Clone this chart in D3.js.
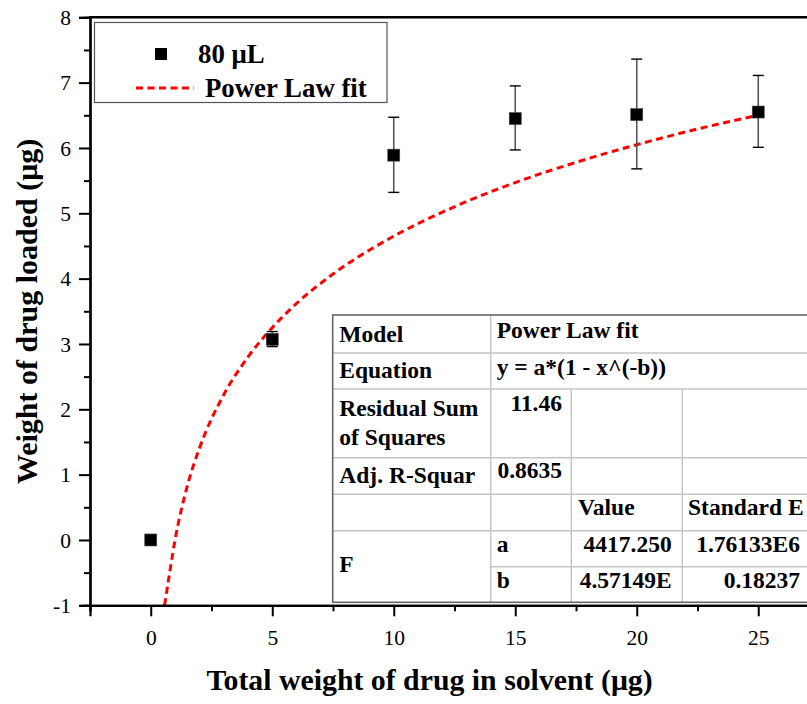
<!DOCTYPE html>
<html>
<head>
<meta charset="utf-8">
<script src="https://cdn.jsdelivr.net/npm/d3@7"></script>
<style>
  body { margin: 0; background: #fff; }
  svg { display: block; font-family: "Liberation Serif", "Times New Roman", serif; }
  svg text { font-family: "Liberation Serif", "Times New Roman", serif; }
</style>
</head>
<body>
<div id="chart"></div>
<script>
// measured points (80 uL)
const drugTotal = [0, 5, 10, 15, 20, 25];
const drugLoaded = [0, 3.07, 5.89, 6.45, 6.51, 6.55];
const errLow = [0, 2.96, 5.32, 5.97, 5.68, 6.01];
const errHigh = [0, 3.19, 6.47, 6.95, 7.36, 7.11];

// power law fit curve
const fitX = [0.57, 0.8, 1, 1.5, 2, 3, 4, 5, 6, 7.5, 10, 12.5, 15, 17.5, 20, 22.5, 25];
const fitY = [-1.0, -0.45, 0, 0.82, 1.4, 2.22, 2.8, 3.25, 3.62, 4.07, 4.65, 5.1, 5.47, 5.78, 6.05, 6.29, 6.5];

const xTicks = [0, 5, 10, 15, 20, 25];
const yTicks = [-1, 0, 1, 2, 3, 4, 5, 6, 7, 8];

const legendLabels = ["80 \u03bcL", "Power Law fit"];

// fit report table
const tableRows = [
  ["Model", "Power Law fit"],
  ["Equation", "y = a*(1 - x^(-b))"],
  ["Residual Sum|of Squares", "11.46"],
  ["Adj. R-Squar", "0.8635"]
];
const paramHeader = ["Value", "Standard E"];
const paramNames = ["a", "b"];
const paramValues = ["4417.250", "4.57149E"];
const paramErrors = ["1.76133E6", "0.18237"];

const render = () => {
  const width = 807, height = 704;
  const svg = d3.select("#chart").append("svg")
    .attr("width", width)
    .attr("height", height);

  const x = d3.scaleLinear().domain([-2.5, 27.5]).range([90, 819]);
  const y = d3.scaleLinear().domain([-1, 8]).range([605.3, 17.3]);

  const points = drugTotal.map((d, i) => ({ x: d, y: drugLoaded[i], lo: errLow[i], hi: errHigh[i] }));
  const fit = fitX.map((d, i) => ({ x: d, y: fitY[i] }));

  // fit curve
  const line = d3.line().x(d => x(d.x)).y(d => y(d.y)).curve(d3.curveMonotoneX);
  svg.append("path")
    .datum(fit)
    .attr("d", line)
    .attr("fill", "none")
    .attr("stroke", "#ff0000")
    .attr("stroke-width", 3)
    .attr("stroke-dasharray", "7,4.5");

  // error bars
  const eb = svg.append("g").selectAll("g")
    .data(points.filter(d => d.hi > d.lo))
    .enter().append("g");
  eb.append("line")
    .attr("x1", d => x(d.x)).attr("x2", d => x(d.x))
    .attr("y1", d => y(d.lo)).attr("y2", d => y(d.hi))
    .attr("stroke", "#555").attr("stroke-width", 1.6);
  ["lo", "hi"].forEach(k => {
    eb.append("line")
      .attr("x1", d => x(d.x) - 5.5).attr("x2", d => x(d.x) + 5.5)
      .attr("y1", d => y(d[k])).attr("y2", d => y(d[k]))
      .attr("stroke", "#000").attr("stroke-width", 1.4);
  });

  // markers
  svg.append("g").selectAll("rect")
    .data(points)
    .enter().append("rect")
    .attr("x", d => x(d.x) - 6)
    .attr("y", d => y(d.y) - 6)
    .attr("width", 12).attr("height", 12)
    .attr("fill", "#000")
    .attr("stroke", "#444").attr("stroke-width", 0.6);

  // axes
  const fmt = d => String(d);
  const yAxis = d3.axisLeft(y).tickValues(yTicks).tickSize(11).tickPadding(8).tickFormat(fmt);
  const yMinor = d3.axisLeft(y).tickValues(d3.range(-0.5, 8, 1)).tickSize(6).tickFormat("");
  const xAxis = d3.axisBottom(x).tickValues(xTicks).tickSize(11).tickPadding(13).tickFormat(fmt);
  const xMinor = d3.axisBottom(x).tickValues(d3.range(-2.5, 28, 5)).tickSize(6).tickFormat("");

  const gy = svg.append("g").attr("transform", "translate(90,0)").call(yAxis);
  svg.append("g").attr("transform", "translate(90,0)").call(yMinor);
  const gx = svg.append("g").attr("transform", "translate(0,605.3)").call(xAxis);
  svg.append("g").attr("transform", "translate(0,605.3)").call(xMinor);

  svg.selectAll("g").attr("font-family", null).attr("font-size", null);
  svg.selectAll(".domain").attr("stroke", "#000").attr("stroke-width", 2.2);
  svg.selectAll(".tick line").attr("stroke", "#000").attr("stroke-width", 2);
  svg.selectAll(".tick text")
    .style("font-size", "21.5px")
    .attr("fill", "#000");
  gy.selectAll(".tick text").attr("dy", "0.34em");

  // top frame line
  svg.append("line")
    .attr("x1", 89).attr("x2", x(27.5))
    .attr("y1", y(8)).attr("y2", y(8))
    .attr("stroke", "#000").attr("stroke-width", 2.4);

  // axis titles
  svg.append("text")
    .attr("x", (207 + 652) / 2).attr("y", 690)
    .attr("text-anchor", "middle")
    .style("font-size", "29.8px").style("font-weight", "bold")
    .text("Total weight of drug in solvent (\u03bcg)");
  svg.append("text")
    .attr("transform", `translate(37,${(140 + 483) / 2}) rotate(-90)`)
    .attr("text-anchor", "middle")
    .style("font-size", "30px").style("font-weight", "bold")
    .text("Weight of drug loaded (\u03bcg)");

  // legend
  const lg = svg.append("g");
  lg.append("rect")
    .attr("x", 94.5).attr("y", 22.5).attr("width", 292.5).attr("height", 80)
    .attr("fill", "#fff").attr("stroke", "#555").attr("stroke-width", 1.2);
  lg.append("rect")
    .attr("x", 155).attr("y", 48).attr("width", 12).attr("height", 12).attr("fill", "#000");
  lg.append("line")
    .attr("x1", 136).attr("x2", 194).attr("y1", 88).attr("y2", 88)
    .attr("stroke", "#ff0000").attr("stroke-width", 3).attr("stroke-dasharray", "7,4.5");
  lg.selectAll("text.lab")
    .data(legendLabels)
    .enter().append("text")
    .attr("class", "lab")
    .attr("x", (d, i) => i === 0 ? 198 : 205)
    .attr("y", (d, i) => i === 0 ? 63 : 97)
    .style("font-size", "26.8px").style("font-weight", "bold")
    .text(d => d);

  // fit table
  const cols = [332.7, 490.7, 571.3, 682.3, 812];
  const rows = [315, 353, 389, 457.7, 494.3, 530.7, 566.7, 602.3];
  const tb = svg.append("g").style("font-size", "23.5px").style("font-weight", "bold");
  tb.append("rect")
    .attr("x", cols[0]).attr("y", rows[0])
    .attr("width", cols[4] - cols[0]).attr("height", rows[7] - rows[0])
    .attr("fill", "#fff");
  const grid = "#c4c4c4";
  rows.slice(1, 7).forEach((r, i) => {
    tb.append("line")
      .attr("x1", i === 5 ? cols[1] : cols[0]).attr("x2", cols[4])
      .attr("y1", r).attr("y2", r)
      .attr("stroke", grid).attr("stroke-width", 1.5);
  });
  tb.append("line").attr("x1", cols[1]).attr("x2", cols[1]).attr("y1", rows[0]).attr("y2", rows[7])
    .attr("stroke", grid).attr("stroke-width", 1.5);
  [cols[2], cols[3]].forEach(c => {
    tb.append("line").attr("x1", c).attr("x2", c).attr("y1", rows[2]).attr("y2", rows[7])
      .attr("stroke", grid).attr("stroke-width", 1.5);
  });
  tb.append("rect")
    .attr("x", cols[0]).attr("y", rows[0])
    .attr("width", cols[4] - cols[0]).attr("height", rows[7] - rows[0])
    .attr("fill", "none").attr("stroke", "#666").attr("stroke-width", 1.6);

  const labelBase = [342.3, 378.3, 416, 483.3];
  const valueBase = [338, 375, 411, 478];
  tableRows.forEach((r, i) => {
    const parts = r[0].split("|");
    parts.forEach((p, j) => {
      tb.append("text").attr("x", 339.3).attr("y", labelBase[i] + j * 29).text(p);
    });
    const numeric = !isNaN(+r[1]);
    tb.append("text")
      .attr("x", numeric ? 562 : 496.7).attr("y", valueBase[i])
      .attr("text-anchor", numeric ? "end" : "start")
      .text(r[1]);
  });
  tb.append("text").attr("x", 578).attr("y", 515).text(paramHeader[0]);
  tb.append("text").attr("x", 688).attr("y", 515).text(paramHeader[1]);
  tb.append("text").attr("x", 339.3).attr("y", 571.7).text("F");
  paramNames.forEach((p, i) => {
    const yb = 551.7 + i * 36;
    tb.append("text").attr("x", 496.7).attr("y", yb).text(p);
    tb.append("text").attr("x", 671.7).attr("y", yb).attr("text-anchor", "end").text(paramValues[i]);
    tb.append("text").attr("x", 800).attr("y", yb).attr("text-anchor", "end").text(paramErrors[i]);
  });
};

document.addEventListener("DOMContentLoaded", render);
</script>
</body>
</html>
